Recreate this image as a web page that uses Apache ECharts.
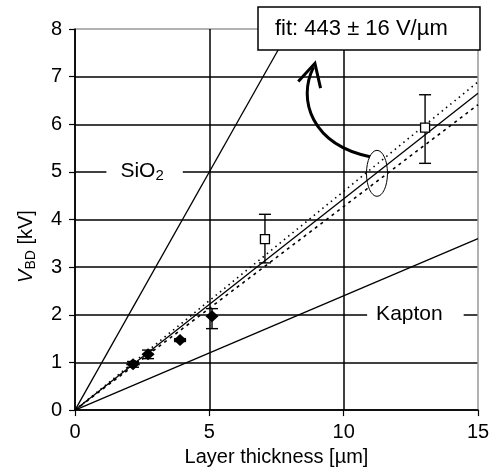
<!DOCTYPE html>
<html>
<head>
<meta charset="utf-8">
<script src="https://cdn.jsdelivr.net/npm/echarts@6/dist/echarts.min.js"></script>
<style>
html, body { margin: 0; padding: 0; background: #fff; }
#chart { width: 497px; height: 472px; }
</style>
</head>
<body>
<div id="chart"></div>
<script>
// thin layers (filled diamonds): thickness, breakdown voltage, error ranges
const thinX = [2.16, 2.72, 3.91, 5.1];
const thinY = [0.96, 1.17, 1.47, 1.97];
const thinXErr = [0.25, 0.2, 0.22, 0.15];
const thinYLow = [0.9, 1.08, 1.44, 1.71];
const thinYHigh = [1.02, 1.26, 1.5, 2.13];

// thick layers (open squares)
const thickX = [7.07, 13.03];
const thickY = [3.59, 5.93];
const thickYLow = [3.09, 5.18];
const thickYHigh = [4.11, 6.62];

// straight lines through origin, end points
const fitLine = [[0, 0], [15, 6.65]];
const fitUpper = [[0, 0], [15, 6.89]];
const fitLower = [[0, 0], [15, 6.41]];
const sio2Line = [[0, 0], [8, 8]];
const kaptonLine = [[0, 0], [15, 3.6]];

// material labels
const materialNames = ['{a|SiO}{b|2}', '{a|Kapton}'];
const materialPos = [[2.59, 5], [12.67, 2]];

// annotation: ellipse round the fit, curved arrow to the box
const ellipseCenter = [11.24, 4.97];
const arrowCurve = [[10.98, 5.32], [8.82, 5.57], [8.26, 6.51], [8.88, 7.2]];
const arrowHead = [[8.31, 6.9], [8.93, 7.28], [9.14, 6.76]];
const fitText = 'fit: 443 ± 16 V/µm';

const font = 'Liberation Sans, Arial, sans-serif';
const black = '#000';

const vErrBar = (params, api) => {
  const x = api.value(0);
  const lo = api.coord([x, api.value(1)]);
  const hi = api.coord([x, api.value(2)]);
  const cap = 6;
  const st = { stroke: black, lineWidth: 1.4 };
  return {
    type: 'group',
    children: [
      { type: 'line', shape: { x1: lo[0], y1: lo[1], x2: hi[0], y2: hi[1] }, style: st },
      { type: 'line', shape: { x1: lo[0] - cap, y1: lo[1], x2: lo[0] + cap, y2: lo[1] }, style: st },
      { type: 'line', shape: { x1: hi[0] - cap, y1: hi[1], x2: hi[0] + cap, y2: hi[1] }, style: st }
    ]
  };
};

const hErrBar = (params, api) => {
  const y = api.value(1);
  const e = api.value(2);
  const l = api.coord([api.value(0) - e, y]);
  const r = api.coord([api.value(0) + e, y]);
  return {
    type: 'line',
    shape: { x1: l[0], y1: l[1], x2: r[0], y2: r[1] },
    style: { stroke: black, lineWidth: 1.8 }
  };
};

const lineSeries = (data, width, type) => ({
  type: 'line',
  data: data,
  symbol: 'none',
  silent: true,
  lineStyle: { color: black, width: width, type: type || 'solid' },
  z: 3
});

const option = {
  animation: false,
  textStyle: { fontFamily: font, color: black },
  title: {
    text: fitText,
    left: 258,
    top: 7,
    padding: [11, 33, 10, 17],
    borderColor: black,
    borderWidth: 1.5,
    backgroundColor: '#fff',
    textStyle: { fontFamily: font, fontSize: 22, fontWeight: 'normal', color: black }
  },
  grid: { left: 75, right: 19, top: 29, bottom: 60 },
  xAxis: {
    type: 'value',
    min: 0, max: 15, interval: 5,
    name: 'Layer thickness [µm]',
    nameLocation: 'middle',
    nameGap: 34,
    nameTextStyle: { fontSize: 20, color: black, fontFamily: font },
    axisLine: { onZero: false, lineStyle: { color: black, width: 1.5 } },
    axisTick: { show: true, length: 6, lineStyle: { color: black, width: 1.2 } },
    axisLabel: { fontSize: 20, color: black, margin: 12, fontFamily: font },
    splitLine: { show: true, lineStyle: { color: [black, black, black, '#999'], width: 1.5 } }
  },
  yAxis: {
    type: 'value',
    min: 0, max: 8, interval: 1,
    name: '{i|V}{s|BD}{n| [kV]}',
    nameLocation: 'middle',
    nameRotate: 90,
    nameGap: 37,
    nameTextStyle: {
      padding: [0, 54, 0, 0],
      rich: {
        i: { fontSize: 20, fontStyle: 'italic', lineHeight: 22, verticalAlign: 'top', fontFamily: font, color: black },
        s: { fontSize: 14, lineHeight: 12, verticalAlign: 'bottom', fontFamily: font, color: black },
        n: { fontSize: 20, lineHeight: 22, verticalAlign: 'top', fontFamily: font, color: black }
      }
    },
    axisLine: { show: true, lineStyle: { color: black, width: 1.5 } },
    axisTick: { show: true, length: 6, lineStyle: { color: black, width: 1.2 } },
    axisLabel: { fontSize: 20, color: black, margin: 13, fontFamily: font },
    splitLine: {
      show: true,
      lineStyle: { color: [black, black, black, black, black, black, black, black, '#999'], width: 1.5 }
    }
  },
  series: [
    lineSeries(sio2Line, 1.3),
    lineSeries(kaptonLine, 1.3),
    lineSeries(fitLine, 1.3),
    lineSeries(fitUpper, 1.6, [1.5, 4]),
    lineSeries(fitLower, 1.6, [3, 4]),
    {
      type: 'custom',
      renderItem: hErrBar,
      data: thinX.map((x, i) => [x, thinY[i], thinXErr[i]]),
      silent: true,
      z: 4
    },
    {
      type: 'custom',
      renderItem: vErrBar,
      data: thinX.map((x, i) => [x, thinYLow[i], thinYHigh[i]]),
      silent: true,
      z: 4
    },
    {
      type: 'custom',
      renderItem: vErrBar,
      data: thickX.map((x, i) => [x, thickYLow[i], thickYHigh[i]]),
      silent: true,
      z: 4
    },
    {
      type: 'scatter',
      data: thinX.map((x, i) => [x, thinY[i]]),
      symbol: 'diamond',
      symbolSize: [13, 12],
      itemStyle: { color: black, opacity: 1 },
      z: 5
    },
    {
      type: 'scatter',
      data: thickX.map((x, i) => [x, thickY[i]]),
      symbol: 'rect',
      symbolSize: 9,
      itemStyle: { color: '#fff', borderColor: black, borderWidth: 1.3, opacity: 1 },
      z: 5
    },
    {
      // material labels on white, cutting the grid lines
      type: 'scatter',
      data: materialPos.map((p, i) => ({ value: p, name: materialNames[i] })),
      symbolSize: 0,
      silent: true,
      z: 6,
      itemStyle: { opacity: 1, color: black },
      label: {
        show: true,
        position: 'inside',
        color: black,
        opacity: 1,
        formatter: p => p.name,
        backgroundColor: '#fff',
        rich: {
          a: { fontSize: 21, lineHeight: 22, verticalAlign: 'top', fontFamily: font, color: black },
          b: { fontSize: 15, lineHeight: 12, verticalAlign: 'bottom', fontFamily: font, color: black }
        }
      }
    },
    {
      type: 'custom',
      silent: true,
      clip: false,
      z: 7,
      data: [ellipseCenter],
      renderItem: (params, api) => {
        const c = api.coord([api.value(0), api.value(1)]);
        const p = arrowCurve.map(q => api.coord(q));
        const h = arrowHead.map(q => api.coord(q));
        return {
          type: 'group',
          children: [
            {
              type: 'ellipse',
              shape: { cx: c[0], cy: c[1], rx: 10.5, ry: 23 },
              style: { fill: 'none', stroke: black, lineWidth: 1 }
            },
            {
              type: 'bezierCurve',
              shape: { x1: p[0][0], y1: p[0][1], cpx1: p[1][0], cpy1: p[1][1], cpx2: p[2][0], cpy2: p[2][1], x2: p[3][0], y2: p[3][1] },
              style: { fill: 'none', stroke: black, lineWidth: 3 }
            },
            {
              type: 'polyline',
              shape: { points: h },
              style: { fill: 'none', stroke: black, lineWidth: 3 }
            }
          ]
        };
      }
    }
  ]
};

// labels with asymmetric padding so the white gap matches the picture
option.series[10].data[0].label = { padding: [2, 19, 2, 14] };
option.series[10].data[1].label = { padding: [2, 21, 2, 9] };

const chart = echarts.init(document.getElementById('chart'));
chart.setOption(option);
</script>
</body>
</html>
